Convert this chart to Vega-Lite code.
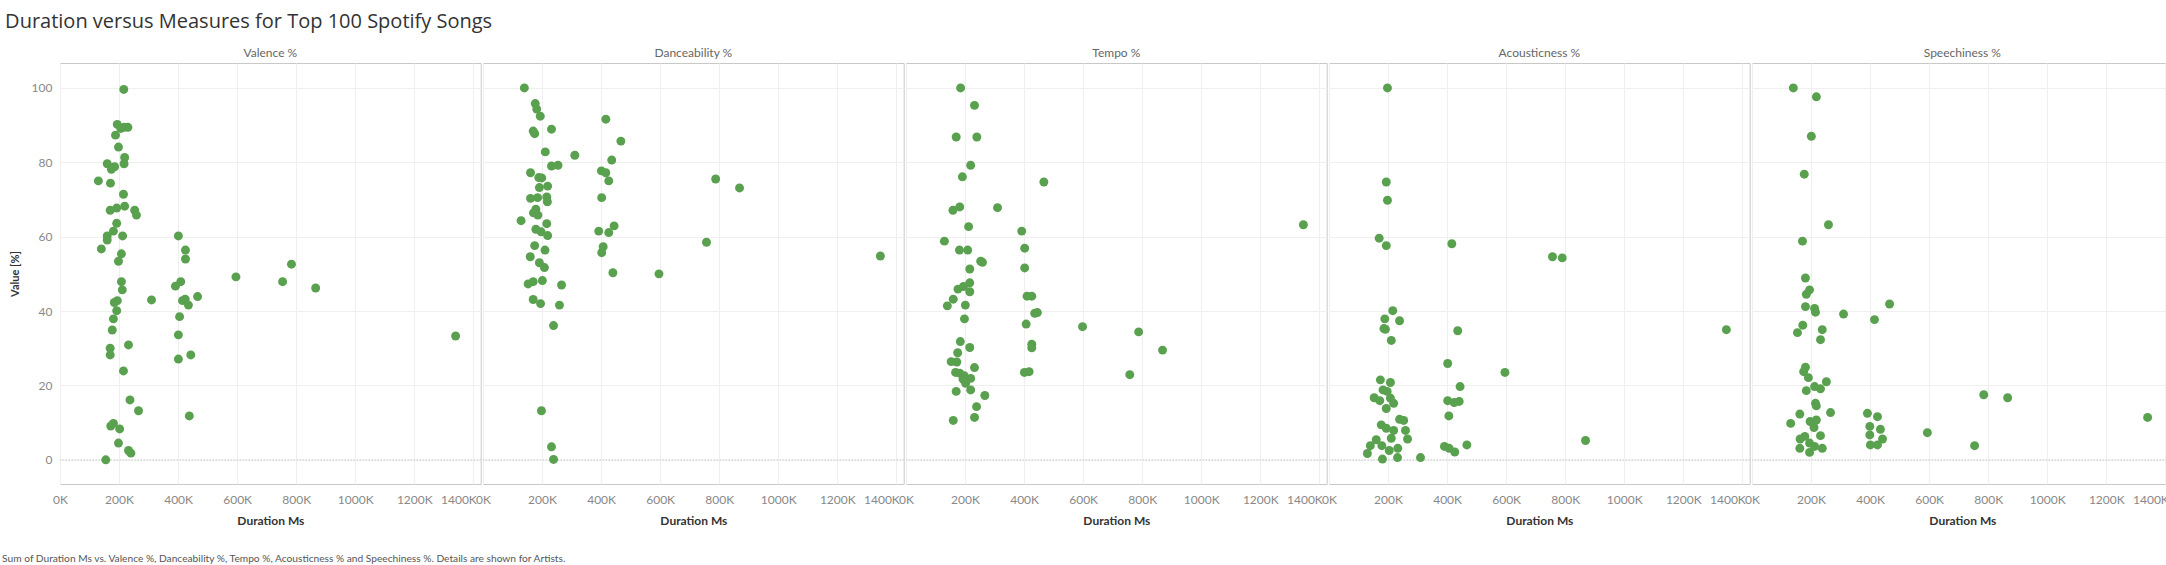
{
  "$schema": "https://vega.github.io/schema/vega-lite/v6.json",
  "padding": {"left": 2, "right": 3, "top": 12, "bottom": 2},
  "background": "white",
  "config": {"font": "Lato", "view": {"stroke": "#c8c8c8"}},
  "title": {"text": "Duration versus Measures for Top 100 Spotify Songs", "anchor": "start", "frame": "bounds", "font": "Open Sans", "fontSize": 20, "fontWeight": "normal", "color": "#333333", "dx": 3, "offset": 15},
  "vconcat": [
    {
      "title": {"text": "Sum of Duration Ms vs. Valence %, Danceability %, Tempo %, Acousticness % and Speechiness %.  Details are shown for Artists.", "orient": "bottom", "anchor": "start", "frame": "bounds", "fontSize": 10.2, "fontWeight": "normal", "color": "#555555", "dx": -7, "offset": 28},
      "data": {"values": [
        {"measure":"Valence %","duration":216000,"value":99.6},
        {"measure":"Valence %","duration":194000,"value":90.2},
        {"measure":"Valence %","duration":230000,"value":89.4},
        {"measure":"Valence %","duration":217000,"value":89.4},
        {"measure":"Valence %","duration":206000,"value":89.1},
        {"measure":"Valence %","duration":188000,"value":87.3},
        {"measure":"Valence %","duration":198000,"value":84.1},
        {"measure":"Valence %","duration":219000,"value":81.3},
        {"measure":"Valence %","duration":217000,"value":79.6},
        {"measure":"Valence %","duration":160000,"value":79.6},
        {"measure":"Valence %","duration":185000,"value":78.8},
        {"measure":"Valence %","duration":174000,"value":78.1},
        {"measure":"Valence %","duration":130000,"value":75.0},
        {"measure":"Valence %","duration":171000,"value":74.4},
        {"measure":"Valence %","duration":215000,"value":71.4},
        {"measure":"Valence %","duration":219000,"value":68.2},
        {"measure":"Valence %","duration":170000,"value":67.1},
        {"measure":"Valence %","duration":192000,"value":67.7},
        {"measure":"Valence %","duration":253000,"value":67.1},
        {"measure":"Valence %","duration":259000,"value":65.8},
        {"measure":"Valence %","duration":192000,"value":63.6},
        {"measure":"Valence %","duration":181000,"value":61.5},
        {"measure":"Valence %","duration":160000,"value":60.2},
        {"measure":"Valence %","duration":212000,"value":60.2},
        {"measure":"Valence %","duration":160000,"value":59.1},
        {"measure":"Valence %","duration":140000,"value":56.7},
        {"measure":"Valence %","duration":208000,"value":55.4},
        {"measure":"Valence %","duration":198000,"value":53.4},
        {"measure":"Valence %","duration":208000,"value":47.9},
        {"measure":"Valence %","duration":211000,"value":45.7},
        {"measure":"Valence %","duration":194000,"value":42.8},
        {"measure":"Valence %","duration":184000,"value":42.3},
        {"measure":"Valence %","duration":192000,"value":40.1},
        {"measure":"Valence %","duration":181000,"value":37.9},
        {"measure":"Valence %","duration":177000,"value":34.9},
        {"measure":"Valence %","duration":170000,"value":30.0},
        {"measure":"Valence %","duration":232000,"value":30.9},
        {"measure":"Valence %","duration":170000,"value":28.2},
        {"measure":"Valence %","duration":215000,"value":23.9},
        {"measure":"Valence %","duration":237000,"value":16.1},
        {"measure":"Valence %","duration":266000,"value":13.2},
        {"measure":"Valence %","duration":181000,"value":9.8},
        {"measure":"Valence %","duration":172000,"value":9.1},
        {"measure":"Valence %","duration":202000,"value":8.3},
        {"measure":"Valence %","duration":198000,"value":4.5},
        {"measure":"Valence %","duration":232000,"value":2.5},
        {"measure":"Valence %","duration":240000,"value":1.8},
        {"measure":"Valence %","duration":155000,"value":0.0},
        {"measure":"Valence %","duration":401000,"value":60.2},
        {"measure":"Valence %","duration":425000,"value":56.4},
        {"measure":"Valence %","duration":425000,"value":54.0},
        {"measure":"Valence %","duration":409000,"value":47.9},
        {"measure":"Valence %","duration":391000,"value":46.7},
        {"measure":"Valence %","duration":310000,"value":43.0},
        {"measure":"Valence %","duration":466000,"value":43.9},
        {"measure":"Valence %","duration":424000,"value":43.2},
        {"measure":"Valence %","duration":415000,"value":42.8},
        {"measure":"Valence %","duration":435000,"value":41.6},
        {"measure":"Valence %","duration":405000,"value":38.5},
        {"measure":"Valence %","duration":401000,"value":33.6},
        {"measure":"Valence %","duration":443000,"value":28.2},
        {"measure":"Valence %","duration":401000,"value":27.1},
        {"measure":"Valence %","duration":438000,"value":11.8},
        {"measure":"Valence %","duration":596000,"value":49.2},
        {"measure":"Valence %","duration":754000,"value":47.9},
        {"measure":"Valence %","duration":784000,"value":52.6},
        {"measure":"Valence %","duration":866000,"value":46.2},
        {"measure":"Valence %","duration":1340000,"value":33.3},
        {"measure":"Danceability %","duration":140000,"value":100.0},
        {"measure":"Danceability %","duration":177000,"value":95.8},
        {"measure":"Danceability %","duration":182000,"value":94.3},
        {"measure":"Danceability %","duration":194000,"value":92.4},
        {"measure":"Danceability %","duration":232000,"value":88.9},
        {"measure":"Danceability %","duration":170000,"value":88.4},
        {"measure":"Danceability %","duration":175000,"value":87.7},
        {"measure":"Danceability %","duration":416000,"value":91.6},
        {"measure":"Danceability %","duration":467000,"value":85.7},
        {"measure":"Danceability %","duration":211000,"value":82.8},
        {"measure":"Danceability %","duration":311000,"value":81.9},
        {"measure":"Danceability %","duration":436000,"value":80.6},
        {"measure":"Danceability %","duration":232000,"value":79.0},
        {"measure":"Danceability %","duration":254000,"value":79.2},
        {"measure":"Danceability %","duration":161000,"value":77.2},
        {"measure":"Danceability %","duration":189000,"value":75.9},
        {"measure":"Danceability %","duration":199000,"value":75.8},
        {"measure":"Danceability %","duration":219000,"value":73.6},
        {"measure":"Danceability %","duration":191000,"value":73.2},
        {"measure":"Danceability %","duration":401000,"value":77.7},
        {"measure":"Danceability %","duration":416000,"value":77.2},
        {"measure":"Danceability %","duration":426000,"value":75.0},
        {"measure":"Danceability %","duration":788000,"value":75.5},
        {"measure":"Danceability %","duration":869000,"value":73.1},
        {"measure":"Danceability %","duration":161000,"value":70.3},
        {"measure":"Danceability %","duration":185000,"value":70.5},
        {"measure":"Danceability %","duration":216000,"value":70.7},
        {"measure":"Danceability %","duration":218000,"value":69.4},
        {"measure":"Danceability %","duration":402000,"value":70.5},
        {"measure":"Danceability %","duration":179000,"value":67.4},
        {"measure":"Danceability %","duration":171000,"value":66.4},
        {"measure":"Danceability %","duration":186000,"value":65.8},
        {"measure":"Danceability %","duration":129000,"value":64.3},
        {"measure":"Danceability %","duration":216000,"value":63.5},
        {"measure":"Danceability %","duration":179000,"value":62.0},
        {"measure":"Danceability %","duration":197000,"value":61.3},
        {"measure":"Danceability %","duration":219000,"value":60.3},
        {"measure":"Danceability %","duration":444000,"value":62.9},
        {"measure":"Danceability %","duration":392000,"value":61.5},
        {"measure":"Danceability %","duration":426000,"value":61.1},
        {"measure":"Danceability %","duration":175000,"value":57.6},
        {"measure":"Danceability %","duration":210000,"value":56.4},
        {"measure":"Danceability %","duration":407000,"value":57.3},
        {"measure":"Danceability %","duration":402000,"value":55.7},
        {"measure":"Danceability %","duration":160000,"value":54.6},
        {"measure":"Danceability %","duration":191000,"value":53.0},
        {"measure":"Danceability %","duration":208000,"value":51.7},
        {"measure":"Danceability %","duration":440000,"value":50.3},
        {"measure":"Danceability %","duration":596000,"value":50.0},
        {"measure":"Danceability %","duration":757000,"value":58.5},
        {"measure":"Danceability %","duration":1346000,"value":54.8},
        {"measure":"Danceability %","duration":153000,"value":47.3},
        {"measure":"Danceability %","duration":170000,"value":47.9},
        {"measure":"Danceability %","duration":201000,"value":48.2},
        {"measure":"Danceability %","duration":266000,"value":47.0},
        {"measure":"Danceability %","duration":170000,"value":43.1},
        {"measure":"Danceability %","duration":195000,"value":42.0},
        {"measure":"Danceability %","duration":259000,"value":41.6},
        {"measure":"Danceability %","duration":239000,"value":36.1},
        {"measure":"Danceability %","duration":198000,"value":13.2},
        {"measure":"Danceability %","duration":232000,"value":3.5},
        {"measure":"Danceability %","duration":239000,"value":0.1},
        {"measure":"Tempo %","duration":185000,"value":100.0},
        {"measure":"Tempo %","duration":232000,"value":95.3},
        {"measure":"Tempo %","duration":170000,"value":86.8},
        {"measure":"Tempo %","duration":240000,"value":86.8},
        {"measure":"Tempo %","duration":219000,"value":79.2},
        {"measure":"Tempo %","duration":191000,"value":76.1},
        {"measure":"Tempo %","duration":467000,"value":74.7},
        {"measure":"Tempo %","duration":159000,"value":67.1},
        {"measure":"Tempo %","duration":182000,"value":68.0},
        {"measure":"Tempo %","duration":310000,"value":67.8},
        {"measure":"Tempo %","duration":212000,"value":62.7},
        {"measure":"Tempo %","duration":392000,"value":61.5},
        {"measure":"Tempo %","duration":1346000,"value":63.2},
        {"measure":"Tempo %","duration":130000,"value":58.8},
        {"measure":"Tempo %","duration":181000,"value":56.4},
        {"measure":"Tempo %","duration":209000,"value":56.4},
        {"measure":"Tempo %","duration":253000,"value":53.4},
        {"measure":"Tempo %","duration":259000,"value":53.1},
        {"measure":"Tempo %","duration":402000,"value":56.9},
        {"measure":"Tempo %","duration":216000,"value":51.3},
        {"measure":"Tempo %","duration":402000,"value":51.6},
        {"measure":"Tempo %","duration":216000,"value":47.6},
        {"measure":"Tempo %","duration":176000,"value":45.9},
        {"measure":"Tempo %","duration":195000,"value":46.6},
        {"measure":"Tempo %","duration":216000,"value":45.2},
        {"measure":"Tempo %","duration":160000,"value":43.2},
        {"measure":"Tempo %","duration":140000,"value":41.4},
        {"measure":"Tempo %","duration":201000,"value":41.6},
        {"measure":"Tempo %","duration":410000,"value":44.0},
        {"measure":"Tempo %","duration":426000,"value":44.0},
        {"measure":"Tempo %","duration":436000,"value":39.4},
        {"measure":"Tempo %","duration":445000,"value":39.6},
        {"measure":"Tempo %","duration":407000,"value":36.5},
        {"measure":"Tempo %","duration":198000,"value":37.9},
        {"measure":"Tempo %","duration":598000,"value":35.8},
        {"measure":"Tempo %","duration":788000,"value":34.4},
        {"measure":"Tempo %","duration":869000,"value":29.5},
        {"measure":"Tempo %","duration":758000,"value":22.9},
        {"measure":"Tempo %","duration":184000,"value":31.8},
        {"measure":"Tempo %","duration":216000,"value":30.2},
        {"measure":"Tempo %","duration":175000,"value":28.8},
        {"measure":"Tempo %","duration":426000,"value":31.1},
        {"measure":"Tempo %","duration":426000,"value":30.1},
        {"measure":"Tempo %","duration":153000,"value":26.4},
        {"measure":"Tempo %","duration":172000,"value":26.3},
        {"measure":"Tempo %","duration":232000,"value":24.8},
        {"measure":"Tempo %","duration":168000,"value":23.5},
        {"measure":"Tempo %","duration":182000,"value":23.3},
        {"measure":"Tempo %","duration":197000,"value":22.6},
        {"measure":"Tempo %","duration":219000,"value":21.9},
        {"measure":"Tempo %","duration":202000,"value":20.6},
        {"measure":"Tempo %","duration":193000,"value":21.7},
        {"measure":"Tempo %","duration":401000,"value":23.5},
        {"measure":"Tempo %","duration":417000,"value":23.7},
        {"measure":"Tempo %","duration":170000,"value":18.4},
        {"measure":"Tempo %","duration":219000,"value":18.8},
        {"measure":"Tempo %","duration":267000,"value":17.3},
        {"measure":"Tempo %","duration":239000,"value":14.3},
        {"measure":"Tempo %","duration":232000,"value":11.4},
        {"measure":"Tempo %","duration":160000,"value":10.6},
        {"measure":"Acousticness %","duration":198000,"value":100.0},
        {"measure":"Acousticness %","duration":194000,"value":74.7},
        {"measure":"Acousticness %","duration":198000,"value":69.8},
        {"measure":"Acousticness %","duration":170000,"value":59.6},
        {"measure":"Acousticness %","duration":194000,"value":57.6},
        {"measure":"Acousticness %","duration":416000,"value":58.1},
        {"measure":"Acousticness %","duration":757000,"value":54.6},
        {"measure":"Acousticness %","duration":790000,"value":54.3},
        {"measure":"Acousticness %","duration":1346000,"value":35.0},
        {"measure":"Acousticness %","duration":216000,"value":40.1},
        {"measure":"Acousticness %","duration":189000,"value":37.9},
        {"measure":"Acousticness %","duration":239000,"value":37.4},
        {"measure":"Acousticness %","duration":186000,"value":35.3},
        {"measure":"Acousticness %","duration":191000,"value":35.1},
        {"measure":"Acousticness %","duration":436000,"value":34.7},
        {"measure":"Acousticness %","duration":211000,"value":32.1},
        {"measure":"Acousticness %","duration":402000,"value":25.9},
        {"measure":"Acousticness %","duration":596000,"value":23.5},
        {"measure":"Acousticness %","duration":174000,"value":21.5},
        {"measure":"Acousticness %","duration":208000,"value":20.8},
        {"measure":"Acousticness %","duration":183000,"value":18.8},
        {"measure":"Acousticness %","duration":197000,"value":18.4},
        {"measure":"Acousticness %","duration":444000,"value":19.7},
        {"measure":"Acousticness %","duration":153000,"value":16.7},
        {"measure":"Acousticness %","duration":172000,"value":15.9},
        {"measure":"Acousticness %","duration":208000,"value":16.6},
        {"measure":"Acousticness %","duration":219000,"value":15.2},
        {"measure":"Acousticness %","duration":194000,"value":13.8},
        {"measure":"Acousticness %","duration":402000,"value":15.9},
        {"measure":"Acousticness %","duration":424000,"value":15.4},
        {"measure":"Acousticness %","duration":441000,"value":15.7},
        {"measure":"Acousticness %","duration":406000,"value":11.8},
        {"measure":"Acousticness %","duration":239000,"value":10.9},
        {"measure":"Acousticness %","duration":253000,"value":10.6},
        {"measure":"Acousticness %","duration":177000,"value":9.4},
        {"measure":"Acousticness %","duration":194000,"value":8.5},
        {"measure":"Acousticness %","duration":219000,"value":7.9},
        {"measure":"Acousticness %","duration":259000,"value":7.9},
        {"measure":"Acousticness %","duration":211000,"value":5.8},
        {"measure":"Acousticness %","duration":266000,"value":5.6},
        {"measure":"Acousticness %","duration":160000,"value":5.4},
        {"measure":"Acousticness %","duration":140000,"value":3.8},
        {"measure":"Acousticness %","duration":179000,"value":3.8},
        {"measure":"Acousticness %","duration":233000,"value":3.1},
        {"measure":"Acousticness %","duration":204000,"value":2.5},
        {"measure":"Acousticness %","duration":130000,"value":1.7},
        {"measure":"Acousticness %","duration":181000,"value":0.2},
        {"measure":"Acousticness %","duration":232000,"value":0.6},
        {"measure":"Acousticness %","duration":310000,"value":0.6},
        {"measure":"Acousticness %","duration":391000,"value":3.6},
        {"measure":"Acousticness %","duration":407000,"value":3.1},
        {"measure":"Acousticness %","duration":426000,"value":2.1},
        {"measure":"Acousticness %","duration":467000,"value":4.0},
        {"measure":"Acousticness %","duration":869000,"value":5.2},
        {"measure":"Speechiness %","duration":140000,"value":100.0},
        {"measure":"Speechiness %","duration":218000,"value":97.6},
        {"measure":"Speechiness %","duration":201000,"value":87.0},
        {"measure":"Speechiness %","duration":177000,"value":76.8},
        {"measure":"Speechiness %","duration":259000,"value":63.2},
        {"measure":"Speechiness %","duration":171000,"value":58.8},
        {"measure":"Speechiness %","duration":181000,"value":48.9},
        {"measure":"Speechiness %","duration":195000,"value":45.7},
        {"measure":"Speechiness %","duration":184000,"value":44.5},
        {"measure":"Speechiness %","duration":181000,"value":41.2},
        {"measure":"Speechiness %","duration":212000,"value":40.7},
        {"measure":"Speechiness %","duration":215000,"value":39.7},
        {"measure":"Speechiness %","duration":466000,"value":41.9},
        {"measure":"Speechiness %","duration":310000,"value":39.2},
        {"measure":"Speechiness %","duration":415000,"value":37.7},
        {"measure":"Speechiness %","duration":172000,"value":36.2},
        {"measure":"Speechiness %","duration":154000,"value":34.2},
        {"measure":"Speechiness %","duration":238000,"value":35.0},
        {"measure":"Speechiness %","duration":232000,"value":32.3},
        {"measure":"Speechiness %","duration":181000,"value":24.9},
        {"measure":"Speechiness %","duration":175000,"value":23.7},
        {"measure":"Speechiness %","duration":191000,"value":22.1},
        {"measure":"Speechiness %","duration":252000,"value":21.0},
        {"measure":"Speechiness %","duration":212000,"value":19.7},
        {"measure":"Speechiness %","duration":184000,"value":18.6},
        {"measure":"Speechiness %","duration":232000,"value":19.1},
        {"measure":"Speechiness %","duration":215000,"value":15.2},
        {"measure":"Speechiness %","duration":218000,"value":14.5},
        {"measure":"Speechiness %","duration":266000,"value":12.7},
        {"measure":"Speechiness %","duration":162000,"value":12.3},
        {"measure":"Speechiness %","duration":131000,"value":9.8},
        {"measure":"Speechiness %","duration":197000,"value":10.3},
        {"measure":"Speechiness %","duration":218000,"value":10.7},
        {"measure":"Speechiness %","duration":210000,"value":8.7},
        {"measure":"Speechiness %","duration":232000,"value":6.5},
        {"measure":"Speechiness %","duration":163000,"value":5.6},
        {"measure":"Speechiness %","duration":179000,"value":6.3},
        {"measure":"Speechiness %","duration":195000,"value":4.5},
        {"measure":"Speechiness %","duration":162000,"value":3.1},
        {"measure":"Speechiness %","duration":238000,"value":3.1},
        {"measure":"Speechiness %","duration":195000,"value":2.0},
        {"measure":"Speechiness %","duration":212000,"value":3.6},
        {"measure":"Speechiness %","duration":391000,"value":12.5},
        {"measure":"Speechiness %","duration":425000,"value":11.6},
        {"measure":"Speechiness %","duration":399000,"value":9.0},
        {"measure":"Speechiness %","duration":435000,"value":8.2},
        {"measure":"Speechiness %","duration":399000,"value":6.7},
        {"measure":"Speechiness %","duration":442000,"value":5.6},
        {"measure":"Speechiness %","duration":401000,"value":4.0},
        {"measure":"Speechiness %","duration":425000,"value":4.0},
        {"measure":"Speechiness %","duration":594000,"value":7.3},
        {"measure":"Speechiness %","duration":754000,"value":3.8},
        {"measure":"Speechiness %","duration":785000,"value":17.5},
        {"measure":"Speechiness %","duration":866000,"value":16.7},
        {"measure":"Speechiness %","duration":1340000,"value":11.4}
      ]},
      "facet": {
        "column": {
          "field": "measure", "type": "nominal",
          "sort": ["Valence %", "Danceability %", "Tempo %", "Acousticness %", "Speechiness %"],
          "header": {"title": null, "labelFontSize": 12, "labelColor": "#666666", "labelPadding": 2}
        }
      },
      "spacing": 0,
      "spec": {
        "width": 420.7,
        "height": 421,
        "layer": [
          {
            "transform": [{"aggregate": [{"op": "count", "as": "n"}], "groupby": ["measure"]}],
            "mark": {"type": "rule", "color": "#b4b4b4", "strokeDash": [1, 2], "strokeWidth": 1},
            "encoding": {
              "y": {"datum": 0, "type": "quantitative", "title": "Value [%]", "scale": {"domain": [-6.5, 106.7], "nice": false, "zero": false}}
            }
          },
          {
            "mark": {"type": "circle", "size": 80, "opacity": 1, "color": "#59a14f"},
            "encoding": {
              "x": {
                "field": "duration", "type": "quantitative",
                "scale": {"domain": [0, 1425000], "nice": false, "zero": false},
                "axis": {
                  "title": "Duration Ms",
                  "values": [0, 200000, 400000, 600000, 800000, 1000000, 1200000, 1400000],
                  "labelExpr": "datum.value / 1000 + 'K'",
                  "grid": true, "gridColor": "#efefef", "domain": false, "ticks": false, "tickSize": 0,
                  "labelColor": "#888888", "labelFontSize": 12, "labelPadding": 9, "labelOverlap": false, "labelFlush": true,
                  "labelAlign": {"condition": {"test": "datum.value >= 1400000", "value": "right"}, "value": "center"},
                  "labelOffset": {"condition": {"test": "datum.value >= 1400000", "value": 3}, "value": 0},
                  "titleFontSize": 12, "titleFontWeight": "bold", "titleColor": "#333333", "titlePadding": 10
                }
              },
              "y": {
                "field": "value", "type": "quantitative",
                "scale": {"domain": [-6.5, 106.7], "nice": false, "zero": false},
                "axis": {
                  "title": "Value [%]",
                  "values": [0, 20, 40, 60, 80, 100],
                  "grid": true, "gridColor": "#efefef", "domain": false, "ticks": false, "tickSize": 0,
                  "labelColor": "#888888", "labelFontSize": 12, "labelPadding": 7,
                  "titleFontSize": 11, "titleFontWeight": "bold", "titleColor": "#333333", "titlePadding": 11
                }
              }
            }
          }
        ]
      }
    }
  ]
}
